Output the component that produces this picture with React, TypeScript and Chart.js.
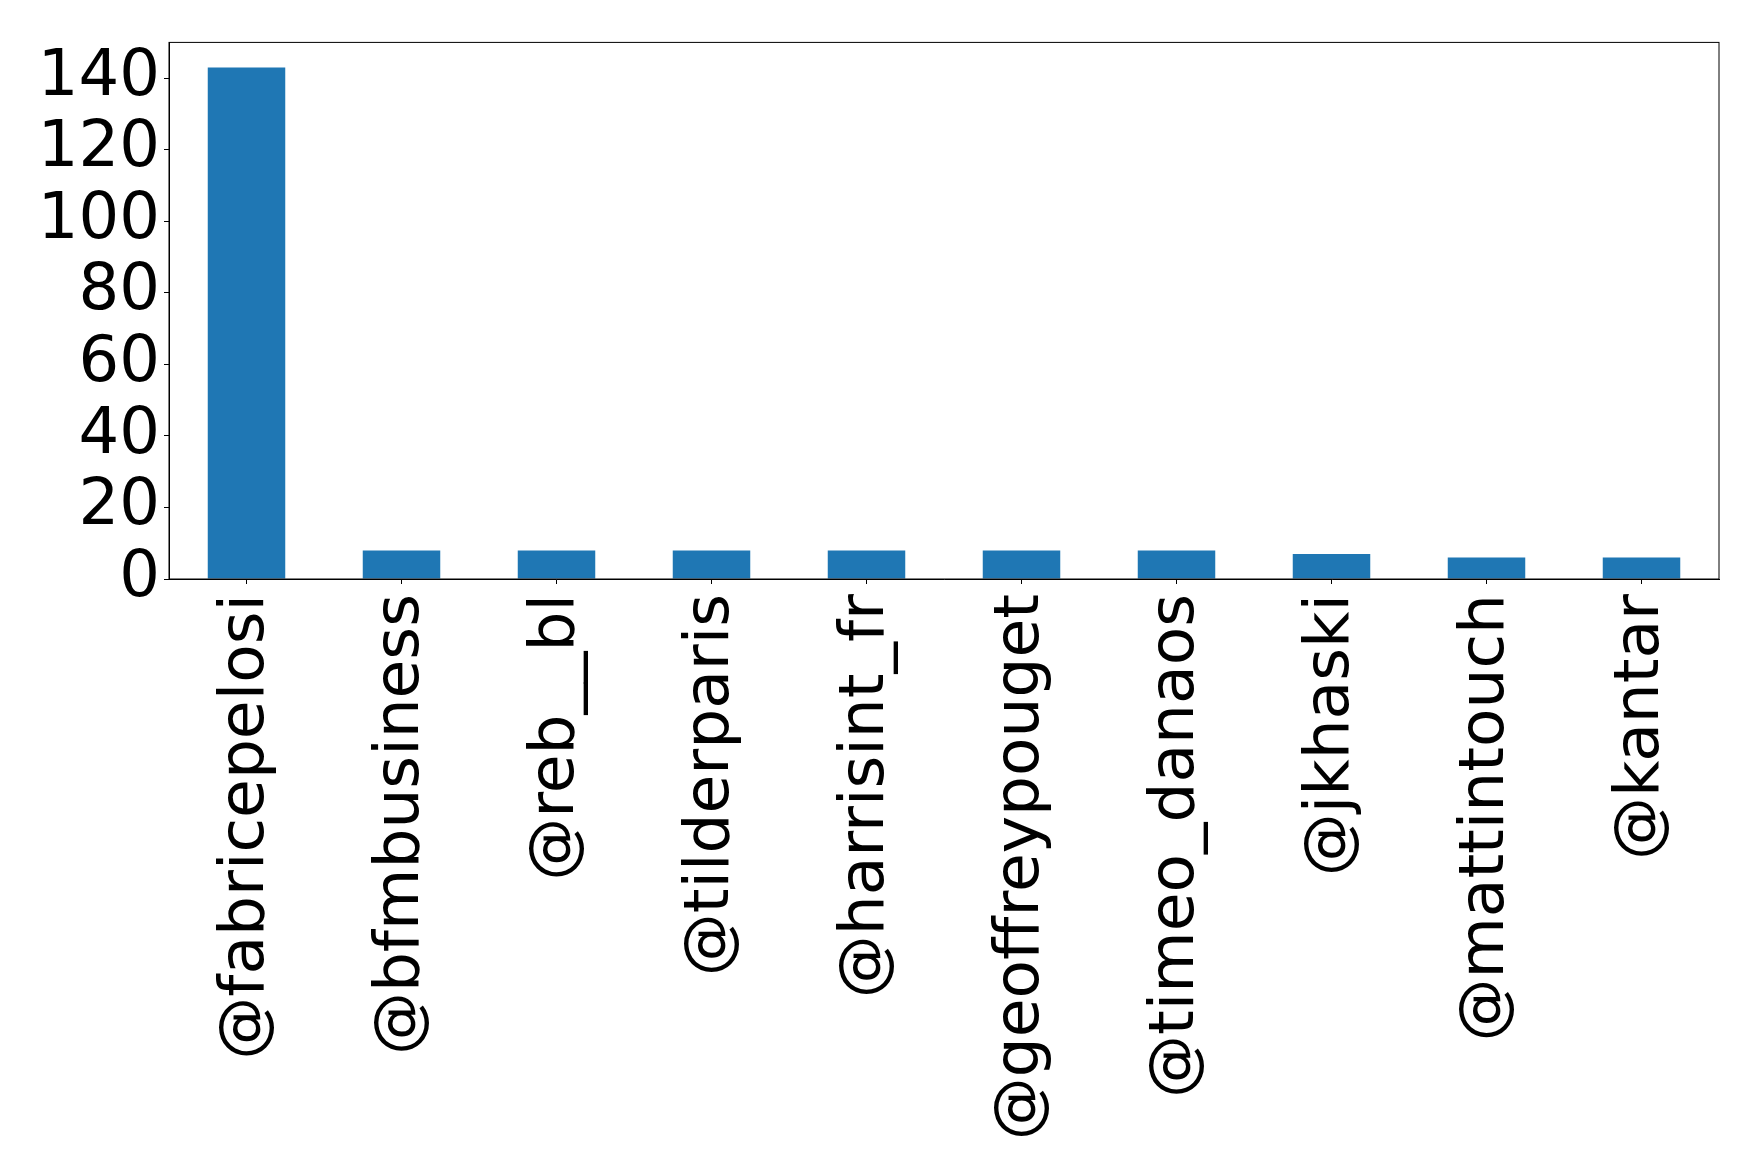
import React, { useEffect, useRef } from "react";
import { Chart, registerables } from "chart.js";

Chart.register(...registerables);

// Data
const USERS = [
  "@fabricepelosi",
  "@bfmbusiness",
  "@reb__bl",
  "@tilderparis",
  "@harrisint_fr",
  "@geoffreypouget",
  "@timeo_danaos",
  "@jkhaski",
  "@mattintouch",
  "@kantar",
];
const COUNTS = [143, 8, 8, 8, 8, 8, 8, 7, 6, 6];
const Y_TICKS = [0, 20, 40, 60, 80, 100, 120, 140];

const WIDTH = 1758;
const HEIGHT = 1171;
const FONT = { family: "'DejaVu Sans', sans-serif", size: 63 };

// matplotlib draws a full box round the axes
const frame = {
  id: "frame",
  afterDraw(chart: Chart) {
    const { ctx, chartArea } = chart;
    ctx.save();
    ctx.strokeStyle = "#000";
    ctx.lineWidth = 1;
    ctx.strokeRect(
      chartArea.left,
      chartArea.top,
      chartArea.right - chartArea.left,
      chartArea.bottom - chartArea.top
    );
    ctx.restore();
  },
};

export default function App() {
  const canvasRef = useRef<HTMLCanvasElement | null>(null);
  const chartRef = useRef<Chart | null>(null);

  useEffect(() => {
    if (!canvasRef.current) return;
    const ctx = canvasRef.current.getContext("2d");
    if (!ctx) return;
    if (chartRef.current) chartRef.current.destroy();

    chartRef.current = new Chart(ctx, {
      type: "bar",
      data: {
        labels: USERS,
        datasets: [
          {
            data: COUNTS,
            backgroundColor: "#1f77b4",
            categoryPercentage: 1,
            barPercentage: 0.5,
          },
        ],
      },
      options: {
        animation: false,
        responsive: false,
        maintainAspectRatio: false,
        layout: { padding: { top: 40, right: 39, left: 0, bottom: 0 } },
        plugins: {
          legend: { display: false },
          tooltip: { enabled: false },
        },
        scales: {
          x: {
            grid: {
              offset: false,
              drawOnChartArea: false,
              drawTicks: true,
              tickLength: 5,
              color: "#000",
            },
            border: { display: true, color: "#000", width: 1 },
            ticks: {
              font: FONT,
              color: "#000",
              minRotation: 90,
              maxRotation: 90,
              autoSkip: false,
              padding: 10,
            },
            afterFit: (axis: any) => {
              axis.height = HEIGHT - 579;
            },
          },
          y: {
            min: 0,
            max: 150,
            grid: {
              drawOnChartArea: false,
              drawTicks: true,
              tickLength: 5,
              color: "#000",
            },
            border: { display: true, color: "#000", width: 1 },
            ticks: {
              font: { ...FONT, size: 64 },
              color: "#000",
              padding: 4,
              autoSkip: false,
            },
            afterBuildTicks: (axis: any) => {
              axis.ticks = Y_TICKS.map((v) => ({ value: v }));
            },
            afterFit: (axis: any) => {
              axis.width = 169;
            },
          },
        },
      },
      plugins: [frame],
    });

    return () => {
      if (chartRef.current) {
        chartRef.current.destroy();
        chartRef.current = null;
      }
    };
  }, []);

  return (
    <div
      style={{
        position: "absolute",
        left: 0,
        top: 0,
        width: WIDTH,
        height: HEIGHT,
        background: "#fff",
      }}
    >
      <canvas ref={canvasRef} width={WIDTH} height={HEIGHT} />
    </div>
  );
}
